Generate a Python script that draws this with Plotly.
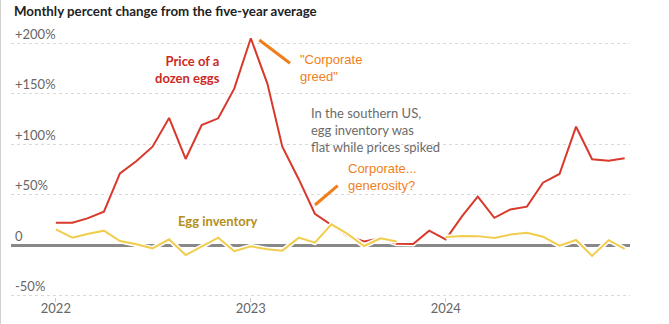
import plotly.graph_objects as go
import pandas as pd

# ---- data ----
months = pd.date_range("2022-01-01", "2024-12-01", freq="MS").strftime("%Y-%m-%d").tolist()
egg_price = [22.1, 22.1, 26.4, 33.0, 71.0, 83.3, 97.5, 126.0, 85.3, 119.0, 125.6, 155.0,
             205.0, 160.0, 97.5, 65.0, 31.0, 19.8, 9.0, 3.6, 6.6, 1.3, 1.0, 14.2,
             5.6, 28.8, 48.0, 27.0, 35.3, 38.0, 61.8, 70.4, 117.3, 85.0, 83.6, 86.0]
egg_inventory = [15.5, 7.3, 10.9, 14.2, 4.0, 0.7, -3.3, 5.6, -10.0, -1.7, 7.3, -6.2,
                 -1.3, -4.3, -5.6, 7.3, 2.3, 20.5, 11.0, -1.0, 6.6, 3.5, None, None,
                 8.0, 9.0, 8.8, 7.0, 10.3, 12.2, 8.2, -0.7, 5.0, -10.8, 4.8, -3.8]
y_ticks = [-50, 0, 50, 100, 150, 200]
y_tick_text = ["-50%", "0", "+50%", "+100%", "+150%", "+200%"]
x_ticks = ["2022-01-01", "2023-01-01", "2024-01-01"]
x_tick_text = ["2022", "2023", "2024"]

W, H = 669, 324
ML, MR, MT, MB = 11, 39, 22, 27
ZERO_PX, PX_PER_UNIT = 245.0, 1.0085
X0 = pd.Timestamp("2021-10-09")
X1 = pd.Timestamp("2024-12-11")
Y1 = (ZERO_PX - MT) / PX_PER_UNIT
Y0 = -((H - MB) - ZERO_PX) / PX_PER_UNIT
PW, PH = W - ML - MR, H - MT - MB

def px2x(px):
    days = (px - ML) / PW * (X1 - X0).days
    return (X0 + pd.Timedelta(days=days)).strftime("%Y-%m-%d %H:%M")

def py2y(py):
    return Y1 - (py - MT) / PH * (Y1 - Y0)

RED = "#d8392b"
YEL = "#f0cd4c"
ORANGE = "#f07f1b"

fig = go.Figure()
fig.add_trace(go.Scatter(x=months, y=egg_price, mode="lines",
                         line=dict(color="white", width=5), hoverinfo="skip", showlegend=False))
fig.add_trace(go.Scatter(x=months, y=egg_price, mode="lines", name="Price of a dozen eggs",
                         line=dict(color=RED, width=2), showlegend=False))
fig.add_trace(go.Scatter(x=months, y=egg_inventory, mode="lines",
                         line=dict(color="white", width=5), hoverinfo="skip", showlegend=False))
fig.add_trace(go.Scatter(x=months, y=egg_inventory, mode="lines", name="Egg inventory",
                         line=dict(color=YEL, width=2), showlegend=False))

fig.update_layout(
    width=W, height=H,
    margin=dict(l=ML, r=MR, t=MT, b=MB),
    paper_bgcolor="white", plot_bgcolor="white",
    font=dict(family="Lato", color="#666"),
    xaxis=dict(type="date", range=[X0, X1], tickvals=x_ticks, ticktext=x_tick_text,
               showgrid=False, zeroline=False, showline=False, automargin=False,
               ticks="outside", ticklen=4, tickcolor="#ccc", tickwidth=1,
               ticklabelstandoff=-5,
               tickfont=dict(family="Lato", size=13, color="#666")),
    yaxis=dict(range=[Y0, Y1], tickvals=y_ticks, ticktext=y_tick_text, automargin=False,
               showgrid=True, gridcolor="#d9d9d9", griddash="dot", gridwidth=1,
               zeroline=True, zerolinecolor="#888", zerolinewidth=2.5,
               ticklabelposition="inside", ticklabelshift=-9, ticklabelstandoff=1,
               tickfont=dict(family="Lato", size=13, color="#666"), showline=False),
)

# title
fig.add_annotation(text="<b>Monthly percent change from the five-year average</b>",
                   xref="paper", yref="paper", x=(12 - ML) / PW, y=1 + (MT - 11) / PH,
                   xanchor="left", yanchor="middle", showarrow=False,
                   font=dict(family="Lato", size=13.3, color="#222"))

def note(text, px, py, color, anchor="left", bold=False, family="Lato", size=13):
    fig.add_annotation(text=f"<b>{text}</b>" if bold else text, x=px2x(px), y=py2y(py),
                       xanchor=anchor, yanchor="top", align=anchor, showarrow=False,
                       font=dict(family=family, size=size, color=color))

note("Price of a<br>dozen eggs", 222, 51, "#cc2a1f", anchor="right", bold=True)
note("Egg inventory", 176, 211, "#b38f1c", bold=True)
note("\"Corporate<br>greed\"", 298, 50, ORANGE, family="Liberation Sans")
note("In the southern US,<br>egg inventory was<br>flat while prices spiked", 309, 103, "#6b6b6b")
note("Corporate...<br>generosity?", 346, 159, ORANGE, family="Liberation Sans")

for (a, b, c, d) in [(259.3, 40, 290, 63.3), (315, 205, 337.7, 185.7)]:
    fig.add_shape(type="line", x0=px2x(a), y0=py2y(b), x1=px2x(c), y1=py2y(d),
                  line=dict(color=ORANGE, width=3))

# left frame line
fig.add_shape(type="line", xref="paper", yref="paper", x0=(0.5 - ML) / PW, x1=(0.5 - ML) / PW,
              y0=-MB / PH, y1=1 + MT / PH, line=dict(color="#d0d0d0", width=1))

fig.write_html("out.html")
